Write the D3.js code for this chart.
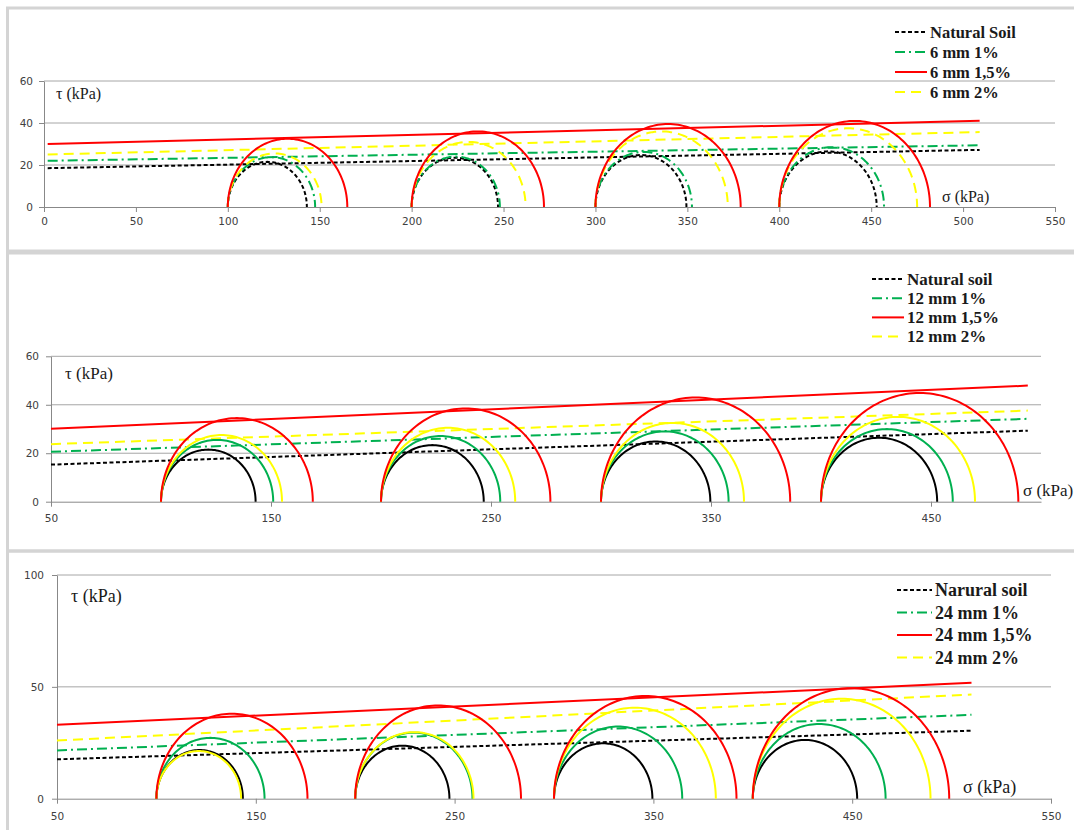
<!DOCTYPE html>
<html>
<head>
<meta charset="utf-8">
<script src="https://cdn.jsdelivr.net/npm/d3@7/dist/d3.min.js"></script>
<style>
  body { margin: 0; background: #fff; }
  svg { display: block; }
  .tick text { font-family: "DejaVu Sans", Verdana, sans-serif; font-size: 10.5px; fill: #404040; }
  .serif { font-family: "Liberation Serif", "Times New Roman", serif; fill: #1a1a1a; }
</style>
</head>
<body>
<div id="chart"></div>
<script>
// Normal stresses (sigma 3) used for every test
var sigma3 = [100, 200, 300, 400];

// Panel 1 : 6 mm fibres
var labels6 = ["Natural Soil", "6 mm 1%", "6 mm 1,5%", "6 mm 2%"];
var sigma1_6 = [
  [143, 247, 349.5, 453],
  [147.5, 248, 352.5, 457],
  [165, 272, 379, 482],
  [151, 262, 372, 475]
];
// envelope tau at start / end of the line
var env6 = [[18.5, 27.2], [22, 29.4], [30, 41.1], [25, 35.7]];
var envX6 = [2, 509];

// Panel 2 : 12 mm fibres
var labels12 = ["Natural soil", "12 mm 1%", "12 mm 1,5%", "12 mm 2%"];
var sigma1_12 = [
  [143, 246.7, 349.7, 452.8],
  [151, 254.2, 358, 459.9],
  [169, 277, 386, 489.7],
  [155, 261, 365, 470]
];
var env12 = [[15.3, 29.3], [20.6, 34.2], [30.1, 47.9], [23.75, 37.6]];
var envX12 = [50, 494];

// Panel 3 : 24 mm fibres
var labels24 = ["Narural soil", "24 mm 1%", "24 mm 1,5%", "24 mm 2%"];
var sigma1_24 = [
  [143.5, 247.4, 349.5, 452.5],
  [154.4, 259, 364.5, 466.8],
  [176, 283.4, 391.8, 498.8],
  [142.6, 259.5, 381.4, 489.4]
];
var env24 = [[17.6, 30.4], [21.6, 37.5], [33.1, 51.8], [26, 46.6]];
var envX24 = [50, 510];

// tick values
var xTicks6 = d3.range(0, 551, 50);
var yTicks6 = [0, 20, 40, 60];
var xTicks12 = [50, 150, 250, 350, 450];
var yTicks12 = [0, 20, 40, 60];
var xTicks24 = [50, 150, 250, 350, 450, 550];
var yTicks24 = [0, 50, 100];

// styles per series : natural, 1%, 1.5%, 2%
var colors = ["#000000", "#00b050", "#ff0000", "#ffff00"];
var dashes = ["4,2.5", "10,4,2,4", null, "10,6"];

var width = 1074;
var height = 830;

var svg = d3.select("#chart")
  .append("svg")
  .attr("width", width)
  .attr("height", height);

svg.append("rect").attr("width", width).attr("height", height).attr("fill", "#fff");

// panel frames
svg.append("rect").attr("x", 7.5).attr("y", 8).attr("width", 1090).attr("height", 243)
  .attr("fill", "none").attr("stroke", "#d4d4d4").attr("stroke-width", 3);
svg.append("rect").attr("x", 7.5).attr("y", 253).attr("width", 1090).attr("height", 298)
  .attr("fill", "none").attr("stroke", "#d4d4d4").attr("stroke-width", 3);
svg.append("rect").attr("x", 7.5).attr("y", 551).attr("width", 1090).attr("height", 300)
  .attr("fill", "none").attr("stroke", "#d4d4d4").attr("stroke-width", 3);

function drawPanel(p) {
  var x = d3.scaleLinear().domain(p.xDomain).range(p.xRange);
  var y = d3.scaleLinear().domain(p.yDomain).range(p.yRange);
  var g = svg.append("g");

  // grid lines
  g.selectAll(".grid")
    .data(p.yTicks.filter(function (d) { return d > 0; }))
    .enter()
    .append("line")
    .attr("x1", p.xRange[0]).attr("x2", p.xRange[1])
    .attr("y1", function (d) { return y(d); })
    .attr("y2", function (d) { return y(d); })
    .attr("stroke", "#a6a6a6").attr("stroke-width", 1);

  // axes
  var xAxis = g.append("g")
    .attr("transform", "translate(0," + p.yRange[0] + ")")
    .call(d3.axisBottom(x).tickValues(p.xTicks).tickSize(5).tickPadding(p.xPad).tickSizeOuter(0));
  var yAxis = g.append("g")
    .attr("transform", "translate(" + p.xRange[0] + ",0)")
    .call(d3.axisLeft(y).tickValues(p.yTicks).tickSize(5).tickPadding(p.yPad).tickSizeOuter(0));
  [xAxis, yAxis].forEach(function (a) {
    a.select(".domain").attr("stroke", "#888");
    a.selectAll(".tick line").attr("stroke", "#888");
  });

  // envelopes
  p.env.forEach(function (e, i) {
    g.append("line")
      .attr("x1", x(p.envX[0])).attr("y1", y(e[0]))
      .attr("x2", x(p.envX[1])).attr("y2", y(e[1]))
      .attr("stroke", colors[i]).attr("stroke-width", 2)
      .attr("stroke-dasharray", dashes[i]);
  });

  // Mohr circles
  var arc = d3.line()
    .x(function (d) { return x(d[0]); })
    .y(function (d) { return y(d[1]); });
  var order = [0, 1, 3, 2];
  order.forEach(function (i) {
    p.sigma1[i].forEach(function (s1, k) {
      var s3 = sigma3[k];
      var c = (s1 + s3) / 2;
      var r = (s1 - s3) / 2;
      var pts = d3.range(0, 181, 2).map(function (deg) {
        var t = deg * Math.PI / 180;
        return [c - r * Math.cos(t), r * Math.sin(t)];
      });
      g.append("path")
        .attr("d", arc(pts))
        .attr("fill", "none")
        .attr("stroke", colors[i])
        .attr("stroke-width", 2)
        .attr("stroke-dasharray", p.dashedCircles ? dashes[i] : null);
    });
  });

  // axis titles
  g.append("text").attr("class", "serif")
    .attr("x", p.tauPos[0]).attr("y", p.tauPos[1])
    .attr("dominant-baseline", "central")
    .attr("font-size", p.titleSize)
    .text("τ (kPa)");
  g.append("text").attr("class", "serif")
    .attr("x", p.sigPos[0]).attr("y", p.sigPos[1])
    .attr("dominant-baseline", "central")
    .attr("font-size", p.titleSize)
    .text("σ (kPa)");

  // legend
  p.labels.forEach(function (lab, i) {
    var ly = p.legY + i * p.legStep;
    g.append("line")
      .attr("x1", p.legX).attr("x2", p.legX + p.legLen)
      .attr("y1", ly).attr("y2", ly)
      .attr("stroke", colors[i]).attr("stroke-width", 2)
      .attr("stroke-dasharray", dashes[i]);
    g.append("text").attr("class", "serif")
      .attr("x", p.legX + p.legLen + 3).attr("y", ly)
      .attr("dominant-baseline", "central")
      .attr("font-size", p.legSize)
      .attr("font-weight", "bold")
      .text(lab);
  });
}

drawPanel({
  xDomain: [0, 550], xRange: [44, 1055],
  yDomain: [0, 60], yRange: [207, 81],
  xTicks: xTicks6, yTicks: yTicks6, xPad: 6, yPad: 6,
  sigma1: sigma1_6, env: env6, envX: envX6, dashedCircles: true,
  tauPos: [56, 93], sigPos: [942, 196], titleSize: 16,
  labels: labels6, legX: 895, legY: 32, legStep: 20, legLen: 32, legSize: 16.5
});

drawPanel({
  xDomain: [50, 500], xRange: [51, 1041],
  yDomain: [0, 60], yRange: [501.7, 356.3],
  xTicks: xTicks12, yTicks: yTicks12, xPad: 8, yPad: 7,
  sigma1: sigma1_12, env: env12, envX: envX12, dashedCircles: false,
  tauPos: [65, 373], sigPos: [1023, 490], titleSize: 17,
  labels: labels12, legX: 872, legY: 279, legStep: 19.2, legLen: 32, legSize: 17
});

drawPanel({
  xDomain: [50, 550], xRange: [57, 1051],
  yDomain: [0, 100], yRange: [798.7, 575],
  xTicks: xTicks24, yTicks: yTicks24, xPad: 9, yPad: 8,
  sigma1: sigma1_24, env: env24, envX: envX24, dashedCircles: false,
  tauPos: [71, 596], sigPos: [963, 787], titleSize: 18,
  labels: labels24, legX: 897, legY: 590, legStep: 22.5, legLen: 35, legSize: 18
});
</script>
</body>
</html>
